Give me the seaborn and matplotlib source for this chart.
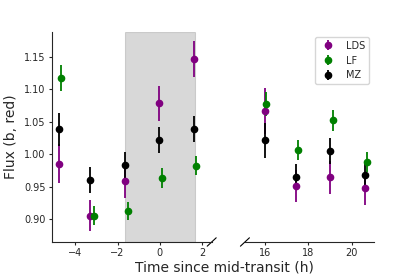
import numpy as np
import pandas as pd
import matplotlib
matplotlib.use("Agg")
import matplotlib.pyplot as plt
import seaborn as sns

# Observation times (h since mid-transit) and fluxes for each observer
lds_t = [-4.79, -3.30, -1.65, -0.03, 1.59, 15.99, 17.45, 19.01, 20.62]
lds_f = [0.985, 0.905, 0.958, 1.078, 1.146, 1.066, 0.951, 0.964, 0.947]
lds_e = [0.030, 0.024, 0.026, 0.027, 0.028, 0.035, 0.025, 0.026, 0.026]

lf_t = [-4.70, -3.12, -1.53, 0.11, 1.72, 16.06, 17.55, 19.14, 20.72]
lf_f = [1.117, 0.905, 0.912, 0.963, 0.982, 1.077, 1.006, 1.052, 0.988]
lf_e = [0.020, 0.015, 0.014, 0.015, 0.015, 0.019, 0.015, 0.016, 0.015]

mz_t = [-4.79, -3.30, -1.65, -0.03, 1.59, 15.99, 17.45, 19.01, 20.62]
mz_f = [1.038, 0.960, 0.983, 1.022, 1.039, 1.021, 0.965, 1.004, 0.968]
mz_e = [0.026, 0.020, 0.020, 0.020, 0.020, 0.027, 0.020, 0.020, 0.018]

observers = ["LDS", "LF", "MZ"]
colors = {"LDS": "purple", "LF": "green", "MZ": "black"}

df = pd.concat([
    pd.DataFrame({"time": lds_t, "flux": lds_f, "err": lds_e, "obs": "LDS"}),
    pd.DataFrame({"time": lf_t, "flux": lf_f, "err": lf_e, "obs": "LF"}),
    pd.DataFrame({"time": mz_t, "flux": mz_f, "err": mz_e, "obs": "MZ"}),
])

sns.set_style("ticks")

fig, (ax1, ax2) = plt.subplots(
    1, 2, sharey=True, figsize=(4.15, 2.77), dpi=100,
    gridspec_kw={"width_ratios": [160, 129]}
)
fig.subplots_adjust(left=0.1246, right=0.901, bottom=0.1264, top=0.8845, wspace=0.23)

# transit window
ax1.axvspan(-1.65, 1.65, color="grey", alpha=0.3, lw=0.8)

for ax in (ax1, ax2):
    for name in observers:
        sub = df[df["obs"] == name]
        ax.errorbar(sub["time"], sub["flux"], yerr=sub["err"], fmt="o",
                    color=colors[name], ms=4.5, elinewidth=1.3, capsize=0,
                    label=name)

ax1.set_xlim(-5.12, 2.45)
ax2.set_xlim(15.08, 21.03)
ax1.set_ylim(0.8646, 1.188)
ax1.set_xticks([-4, -2, 0, 2])
ax2.set_xticks([16, 18, 20])
ax1.set_yticks([0.90, 0.95, 1.00, 1.05, 1.10, 1.15])

sns.despine(ax=ax1)
sns.despine(ax=ax2, left=True)
ax2.tick_params(axis="y", left=False, labelleft=False)
for ax in (ax1, ax2):
    ax.tick_params(labelsize=7, length=2.5, width=0.8, pad=2)
    for sp in ax.spines.values():
        sp.set_linewidth(0.8)

# broken-axis marks
dx1, dy = 4.5 / 160, 4.2 / 210
dx2 = 4.5 / 129
ax1.plot([1 - dx1, 1 + dx1], [-dy, dy], transform=ax1.transAxes,
         color="black", lw=0.8, clip_on=False)
ax2.plot([-dx2, dx2], [-dy, dy], transform=ax2.transAxes,
         color="black", lw=0.8, clip_on=False)

ax1.set_ylabel("Flux (b, red)", fontsize=10)
fig.text(0.542, 0.033, "Time since mid-transit (h)", ha="center", va="center",
         fontsize=10)

ax2.legend(loc="upper right", fontsize=7)

fig.savefig("out.png", dpi=100)
